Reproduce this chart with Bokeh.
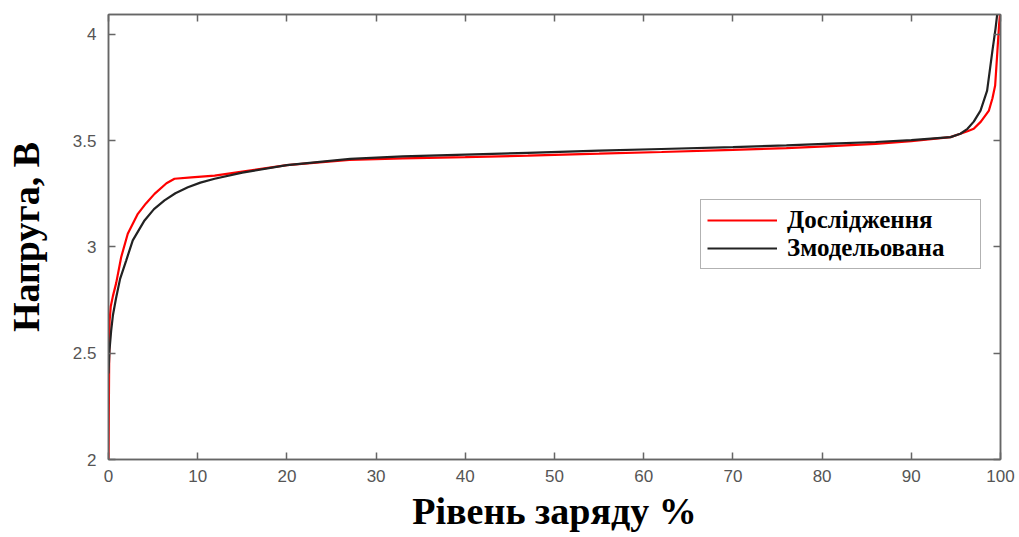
from bokeh.plotting import figure
from bokeh.models import LinearAxis, Range1d, FixedTicker, Legend, LegendItem
from bokeh.embed import file_html
from bokeh.resources import INLINE

# Data
soc_measured = [0, 0.08, 0.12, 0.25, 0.5, 0.86, 1.42, 2.16, 3.29, 4.2, 5.16, 6.5, 7.4, 9.3, 11.9,
                15, 20, 27, 33, 40, 47, 55, 62, 70, 76, 81, 86, 90, 94.4, 95.5, 96.3, 97.0,
                97.8, 98.7, 99.1, 99.4, 99.65, 99.85, 100]
v_measured = [2.0, 2.5, 2.65, 2.72, 2.77, 2.83, 2.952, 3.062, 3.156, 3.205, 3.25, 3.3, 3.321, 3.328,
              3.336, 3.355, 3.385, 3.41, 3.417, 3.423, 3.43, 3.439, 3.447, 3.457, 3.465, 3.475,
              3.485, 3.498, 3.517, 3.533, 3.545, 3.556, 3.59, 3.642, 3.70, 3.76, 3.92, 4.05, 4.12]

soc_model = [0, 0.11, 0.3, 0.5, 0.85, 1.3, 1.98, 2.72, 4.04, 5.1, 6.28, 7.5, 8.9, 10.3, 11.9, 15,
             20, 27.1, 33, 40, 47, 55, 62, 70, 76, 81, 86, 90, 94.4, 95.5, 96.3, 97.0, 97.76,
             98.5, 99.1, 99.45, 99.7]
v_model = [2.405, 2.513, 2.607, 2.68, 2.76, 2.85, 2.936, 3.031, 3.125, 3.178, 3.219, 3.253, 3.281,
           3.303, 3.321, 3.35, 3.385, 3.415, 3.426, 3.435, 3.443, 3.453, 3.461, 3.47, 3.478,
           3.486, 3.494, 3.503, 3.517, 3.533, 3.556, 3.59, 3.642, 3.736, 3.925, 4.03, 4.12]

x_ticks = [0, 10, 20, 30, 40, 50, 60, 70, 80, 90, 100]
y_ticks = [2, 2.5, 3, 3.5, 4]
y_tick_labels = ["2", "2.5", "3", "3.5", "4"]
label_measured = "Дослідження"
label_model = "Змодельована"
x_title = "Рівень заряду %"
y_title = "Напруга, В"

p = figure(width=1019, height=537, output_backend="svg", toolbar_location=None,
           x_range=Range1d(0, 100), y_range=Range1d(2, 4.094),
           min_border_left=108, min_border_right=19, min_border_top=14, min_border_bottom=78)
p.xgrid.visible = False
p.ygrid.visible = False
p.outline_line_color = "#666666"
p.outline_line_width = 1.5

r1 = p.line(soc_measured, v_measured, line_color="#ff0000", line_width=2.2)
r2 = p.line(soc_model, v_model, line_color="#222222", line_width=2.2)

tick_font = "Liberation Sans"
for ax in (p.xaxis[0], p.yaxis[0]):
    ax.axis_line_color = "#666666"
    ax.axis_line_width = 1.5
    ax.major_tick_in = 7
    ax.major_tick_out = 0
    ax.minor_tick_line_color = None
    ax.major_tick_line_color = "#666666"
    ax.major_tick_line_width = 1.5
    ax.major_label_text_font = tick_font
    ax.major_label_text_font_size = "17px"
    ax.major_label_text_color = "#555555"
    ax.axis_label_text_font = "Liberation Serif"
    ax.axis_label_text_font_style = "bold"
    ax.axis_label_text_font_size = "38px"
    ax.axis_label_text_color = "#000000"

p.xaxis[0].ticker = FixedTicker(ticks=x_ticks)
p.yaxis[0].ticker = FixedTicker(ticks=y_ticks)
p.yaxis[0].major_label_overrides = {t: l for t, l in zip(y_ticks, y_tick_labels)}
p.xaxis[0].axis_label = x_title
p.yaxis[0].axis_label = y_title
p.xaxis[0].major_label_standoff = 10
p.xaxis[0].axis_label_standoff = 5
p.yaxis[0].major_label_standoff = 12
p.yaxis[0].axis_label_standoff = 23


def frame_axis(ticks):
    return LinearAxis(ticker=FixedTicker(ticks=ticks),
                      major_label_overrides={t: "" for t in ticks},
                      major_label_text_font_size="1px", major_label_standoff=0,
                      major_tick_in=7, major_tick_out=0, minor_tick_line_color=None,
                      axis_line_color="#666666", major_tick_line_color="#666666",
                      major_tick_line_width=1.5, axis_line_width=1.5)


p.add_layout(frame_axis(x_ticks), "above")
p.add_layout(frame_axis(y_ticks), "right")

legend = Legend(items=[LegendItem(label=label_measured, renderers=[r1]),
                       LegendItem(label=label_model, renderers=[r2])],
                location=(592, 190))
legend.label_text_font = "Liberation Serif"
legend.label_text_font_style = "bold"
legend.label_text_font_size = "25px"
legend.label_text_color = "#000000"
legend.glyph_width = 70
legend.label_standoff = 10
legend.label_width = 187
legend.spacing = 0
legend.padding = 6
legend.margin = 0
legend.border_line_color = "#666666"
legend.border_line_width = 1.5
legend.label_height = 28
legend.glyph_height = 28
p.add_layout(legend, "center")

open("out.html", "w").write(file_html(p, INLINE))
